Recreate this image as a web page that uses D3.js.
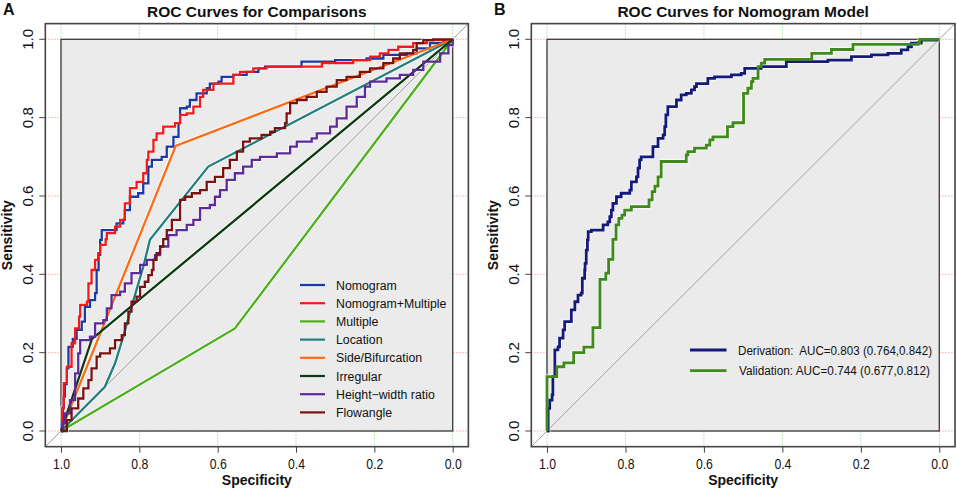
<!DOCTYPE html>
<html><head><meta charset="utf-8">
<script src="https://cdn.jsdelivr.net/npm/d3@7"></script>
<style>body{margin:0;background:#fff}svg{display:block}text{font-family:"Liberation Sans",Arial,Helvetica,sans-serif;white-space:pre}</style>
</head><body><svg id="c" width="957" height="490"></svg>
<script>
// ---------- data ----------
const ticks = [1.0, 0.8, 0.6, 0.4, 0.2, 0.0];
const tickLabels = ["1.0", "0.8", "0.6", "0.4", "0.2", "0.0"];

const seriesA = ["Nomogram", "Nomogram+Multiple", "Multiple", "Location", "Side/Bifurcation", "Irregular", "Height\u2212width ratio", "Flowangle"];
const colorsA = ["#1a3aa6", "#f41a1a", "#4cb01c", "#21807f", "#ff6a14", "#0b3a10", "#5c2a9a", "#7a1212"];
const stepA = [true, true, false, false, false, false, true, true];

const nomogramCurve = [[1,0],[0.998,0.03],[0.995,0.06],[0.993,0.088],[0.99,0.12],[0.985,0.16],[0.981,0.215],[0.97,0.235],[0.96,0.258],[0.947,0.279],[0.939,0.317],[0.926,0.334],[0.913,0.352],[0.909,0.411],[0.904,0.45],[0.9,0.488],[0.896,0.513],[0.875,0.513],[0.858,0.53],[0.841,0.539],[0.837,0.564],[0.824,0.598],[0.803,0.607],[0.79,0.632],[0.777,0.675],[0.768,0.692],[0.743,0.7],[0.73,0.726],[0.713,0.751],[0.7,0.786],[0.696,0.824],[0.679,0.828],[0.671,0.845],[0.654,0.862],[0.628,0.875],[0.62,0.887],[0.598,0.892],[0.59,0.904],[0.56,0.909],[0.526,0.917],[0.496,0.926],[0.479,0.93],[0.39,0.93],[0.386,0.943],[0.305,0.943],[0.3,0.947],[0.262,0.947],[0.22,0.951],[0.177,0.96],[0.117,0.964],[0.092,0.977],[0.058,0.99],[0.024,0.998],[0,1]];
const nomogramMultipleCurve = [[1,0],[0.997,0.058],[0.993,0.122],[0.985,0.164],[0.973,0.224],[0.964,0.262],[0.954,0.292],[0.951,0.322],[0.934,0.33],[0.93,0.377],[0.922,0.411],[0.913,0.437],[0.905,0.454],[0.9,0.475],[0.888,0.475],[0.886,0.49],[0.883,0.505],[0.862,0.522],[0.849,0.539],[0.837,0.581],[0.824,0.62],[0.807,0.636],[0.79,0.658],[0.781,0.692],[0.777,0.713],[0.764,0.743],[0.756,0.76],[0.739,0.777],[0.709,0.786],[0.696,0.807],[0.679,0.811],[0.662,0.828],[0.645,0.853],[0.637,0.871],[0.611,0.887],[0.581,0.887],[0.56,0.909],[0.543,0.917],[0.509,0.926],[0.475,0.93],[0.339,0.93],[0.334,0.939],[0.254,0.947],[0.211,0.956],[0.186,0.964],[0.164,0.973],[0.139,0.981],[0.101,0.99],[0.066,0.998],[0,1]];
const multipleCurve = [[1,0],[0.556,0.262],[0,1]];
const locationCurve = [[1,0],[0.888,0.113],[0.862,0.173],[0.841,0.241],[0.815,0.334],[0.79,0.419],[0.773,0.488],[0.624,0.675],[0,1]];
const sideBifurcationCurve = [[1,0],[0.707,0.728],[0,1]];
const irregularCurve = [[1,0],[0.921,0.235],[0,1]];
const heightWidthCurve = [[1,0],[0.995,0.02],[0.99,0.045],[0.977,0.079],[0.964,0.147],[0.956,0.198],[0.951,0.232],[0.926,0.241],[0.913,0.275],[0.892,0.283],[0.883,0.313],[0.871,0.347],[0.849,0.356],[0.837,0.377],[0.82,0.403],[0.798,0.424],[0.781,0.437],[0.76,0.449],[0.747,0.471],[0.726,0.488],[0.726,0.5],[0.705,0.513],[0.679,0.526],[0.662,0.539],[0.645,0.569],[0.62,0.577],[0.607,0.598],[0.594,0.615],[0.577,0.641],[0.556,0.658],[0.535,0.675],[0.513,0.692],[0.492,0.7],[0.449,0.709],[0.415,0.726],[0.398,0.739],[0.36,0.747],[0.347,0.76],[0.313,0.777],[0.296,0.798],[0.271,0.828],[0.245,0.853],[0.224,0.879],[0.211,0.892],[0.169,0.9],[0.135,0.909],[0.101,0.922],[0.075,0.943],[0.049,0.943],[0.032,0.964],[0.011,0.985],[0,1]];
const flowangleCurve = [[1,0],[0.99,0],[0.985,0.028],[0.973,0.058],[0.956,0.083],[0.943,0.109],[0.93,0.13],[0.922,0.16],[0.909,0.19],[0.9,0.198],[0.879,0.198],[0.875,0.211],[0.862,0.232],[0.845,0.245],[0.837,0.275],[0.828,0.305],[0.82,0.33],[0.807,0.343],[0.798,0.368],[0.786,0.381],[0.777,0.398],[0.768,0.411],[0.764,0.437],[0.756,0.454],[0.747,0.471],[0.739,0.49],[0.73,0.513],[0.717,0.539],[0.696,0.59],[0.683,0.598],[0.666,0.607],[0.645,0.615],[0.628,0.636],[0.607,0.649],[0.586,0.671],[0.569,0.692],[0.551,0.713],[0.535,0.739],[0.518,0.747],[0.488,0.756],[0.466,0.764],[0.454,0.773],[0.428,0.786],[0.424,0.811],[0.415,0.837],[0.398,0.845],[0.373,0.853],[0.347,0.866],[0.322,0.879],[0.296,0.896],[0.271,0.904],[0.237,0.917],[0.211,0.926],[0.177,0.939],[0.152,0.951],[0.135,0.964],[0.101,0.973],[0.092,0.99],[0.075,0.998],[0.05,1],[0,1]];
const curvesA = [nomogramCurve, nomogramMultipleCurve, multipleCurve, locationCurve, sideBifurcationCurve, irregularCurve, heightWidthCurve, flowangleCurve];

const seriesB = ["Derivation:  AUC=0.803 (0.764,0.842)", "Validation: AUC=0.744 (0.677,0.812)"];
const colorsB = ["#141a78", "#3f8a1a"];
const derivationCurve = [[1,0],[0.997,0.058],[0.993,0.079],[0.987,0.092],[0.985,0.139],[0.98,0.207],[0.972,0.215],[0.968,0.237],[0.959,0.258],[0.955,0.279],[0.942,0.279],[0.938,0.309],[0.929,0.33],[0.921,0.347],[0.913,0.352],[0.91,0.39],[0.904,0.411],[0.903,0.428],[0.9,0.462],[0.897,0.488],[0.895,0.509],[0.887,0.513],[0.87,0.513],[0.857,0.526],[0.845,0.534],[0.84,0.547],[0.836,0.564],[0.832,0.581],[0.823,0.598],[0.811,0.607],[0.789,0.615],[0.785,0.636],[0.772,0.649],[0.768,0.671],[0.764,0.692],[0.76,0.7],[0.734,0.7],[0.73,0.726],[0.717,0.747],[0.704,0.756],[0.7,0.777],[0.697,0.807],[0.692,0.828],[0.675,0.828],[0.67,0.845],[0.658,0.858],[0.645,0.862],[0.632,0.871],[0.624,0.879],[0.619,0.887],[0.598,0.887],[0.59,0.9],[0.573,0.904],[0.539,0.904],[0.53,0.909],[0.505,0.913],[0.496,0.926],[0.454,0.93],[0.394,0.93],[0.39,0.943],[0.284,0.947],[0.224,0.956],[0.173,0.96],[0.131,0.964],[0.097,0.973],[0.08,0.981],[0.071,0.99],[0.046,0.998],[0.006,1],[0,1]];
const validationCurve = [[1,0],[1,0.062],[1,0.139],[0.976,0.139],[0.975,0.164],[0.958,0.164],[0.957,0.174],[0.934,0.174],[0.932,0.2],[0.908,0.2],[0.906,0.214],[0.883,0.214],[0.883,0.264],[0.866,0.264],[0.865,0.387],[0.851,0.387],[0.85,0.403],[0.844,0.403],[0.843,0.438],[0.834,0.438],[0.832,0.489],[0.826,0.489],[0.824,0.526],[0.818,0.526],[0.817,0.543],[0.809,0.551],[0.802,0.564],[0.785,0.573],[0.741,0.573],[0.74,0.59],[0.732,0.611],[0.725,0.625],[0.717,0.649],[0.709,0.688],[0.649,0.688],[0.645,0.705],[0.641,0.713],[0.624,0.722],[0.594,0.73],[0.585,0.743],[0.577,0.751],[0.543,0.751],[0.54,0.777],[0.526,0.787],[0.5,0.787],[0.499,0.862],[0.488,0.875],[0.479,0.892],[0.475,0.9],[0.462,0.93],[0.454,0.939],[0.445,0.949],[0.326,0.949],[0.325,0.964],[0.279,0.964],[0.275,0.974],[0.224,0.974],[0.22,0.987],[0.071,0.987],[0.054,0.992],[0.05,1],[0,1]];
const curvesB = [derivationCurve, validationCurve];

// ---------- drawing ----------
const svg = d3.select("#c");
const yS = d3.scaleLinear().domain([0, 1]).range([431, 39.3]);

function panel(opt) {
  const x = d3.scaleLinear().domain([1, 0]).range(opt.xr);
  const g = svg.append("g");
  const fx0 = x(1.04), fx1 = x(-0.04), fy0 = yS(1.04), fy1 = yS(-0.04);
  const cid = "clip" + opt.letter;
  svg.append("clipPath").attr("id", cid).append("rect")
    .attr("x", fx0).attr("y", fy0).attr("width", fx1 - fx0).attr("height", fy1 - fy0);
  // grid
  g.selectAll(".hg").data(ticks).join("line")
    .attr("x1", fx0).attr("x2", fx1).attr("y1", d => yS(d)).attr("y2", d => yS(d))
    .attr("stroke", "#ff8c8c").attr("stroke-width", 1).attr("stroke-dasharray", "1.2,1.8");
  g.selectAll(".vg").data(ticks).join("line")
    .attr("y1", fy0).attr("y2", fy1).attr("x1", d => x(d)).attr("x2", d => x(d))
    .attr("stroke", "#8fd48f").attr("stroke-width", 1).attr("stroke-dasharray", "1.2,1.8");
  // gray area
  g.append("rect").attr("x", x(1)).attr("y", yS(1)).attr("width", x(0) - x(1)).attr("height", yS(0) - yS(1))
    .attr("fill", "#ebebeb").attr("stroke", "#3a3a3a").attr("stroke-width", 1.3);
  // diagonal
  g.append("line").attr("clip-path", `url(#${cid})`)
    .attr("x1", x(1.04)).attr("y1", yS(-0.04)).attr("x2", x(-0.04)).attr("y2", yS(1.04))
    .attr("stroke", "#a0a0a0").attr("stroke-width", 1);
  // curves
  const cg = g.append("g").attr("clip-path", `url(#${cid})`);
  opt.curves.forEach((c, i) => {
    const ln = d3.line().x(d => x(d[0])).y(d => yS(d[1]))
      .curve(opt.step[i] ? d3.curveStepAfter : d3.curveLinear);
    cg.append("path").attr("d", ln(c)).attr("fill", "none")
      .attr("stroke", "#fff").attr("stroke-opacity", 0.75).attr("stroke-width", opt.lw + 1.6).attr("stroke-linejoin", "miter");
  });
  opt.curves.forEach((c, i) => {
    const ln = d3.line().x(d => x(d[0])).y(d => yS(d[1]))
      .curve(opt.step[i] ? d3.curveStepAfter : d3.curveLinear);
    cg.append("path").attr("d", ln(c)).attr("fill", "none")
      .attr("stroke", opt.colors[i]).attr("stroke-width", opt.lw).attr("stroke-linejoin", "miter");
  });
  // frame
  g.append("rect").attr("x", fx0).attr("y", fy0).attr("width", fx1 - fx0).attr("height", fy1 - fy0)
    .attr("fill", "none").attr("stroke", "#444").attr("stroke-width", 1.6);
  // axes
  const xa = d3.axisBottom(x).tickValues(ticks).tickFormat((d, i) => tickLabels[i]).tickSize(6).tickPadding(6);
  const xg = g.append("g").attr("transform", `translate(0,${fy1})`).call(xa);
  xg.select(".domain").remove();
  xg.selectAll("line").attr("stroke", "#444");
  xg.selectAll("text").attr("font-size", 15).attr("fill", "#111").attr("textLength", 17).attr("lengthAdjust", "spacingAndGlyphs");
  const ya = d3.axisLeft(yS).tickValues(ticks).tickFormat((d, i) => tickLabels[i]).tickSize(6).tickPadding(0);
  const yg = g.append("g").attr("transform", `translate(${fx0},0)`).call(ya);
  yg.select(".domain").remove();
  yg.selectAll("line").attr("stroke", "#444");
  yg.selectAll(".tick").attr("transform", null);
  yg.selectAll(".tick line").attr("y1", d => yS(d)).attr("y2", d => yS(d));
  yg.selectAll(".tick text").attr("font-size", 15.5).attr("fill", "#111")
    .attr("text-anchor", "middle").attr("x", null).attr("y", null).attr("dy", null)
    .attr("textLength", 21).attr("lengthAdjust", "spacingAndGlyphs")
    .attr("transform", d => `translate(-12.5,${yS(d)}) rotate(-90)`);
  // titles
  const cx = (fx0 + fx1) / 2;
  g.append("text").attr("x", cx).attr("y", 16.5).attr("text-anchor", "middle")
    .attr("font-size", 15.5).attr("font-weight", "bold").attr("fill", "#111").text(opt.title);
  g.append("text").attr("x", opt.letterX).attr("y", 14.5)
    .attr("font-size", 16).attr("font-weight", "bold").attr("fill", "#111").text(opt.letter);
  g.append("text").attr("x", cx).attr("y", 485).attr("text-anchor", "middle")
    .attr("font-size", 14).attr("font-weight", "bold").attr("fill", "#111").text("Specificity");
  g.append("text").attr("transform", `translate(${fx0 - 33},${(fy0 + fy1) / 2}) rotate(-90)`)
    .attr("text-anchor", "middle").attr("font-size", 14).attr("font-weight", "bold").attr("fill", "#111").text("Sensitivity");
  // legend
  const lg = g.append("g");
  opt.names.forEach((n, i) => {
    const yy = opt.legY + i * opt.legDy;
    lg.append("line").attr("x1", opt.legX).attr("x2", opt.legX + opt.legLen).attr("y1", yy).attr("y2", yy)
      .attr("stroke", opt.colors[i]).attr("stroke-width", opt.legLw);
    const t = lg.append("text").attr("x", opt.legX + opt.legLen + opt.legGap + (opt.legOff ? opt.legOff[i] : 0)).attr("y", yy + 4.5)
      .attr("font-size", opt.legFs).attr("fill", "#111").text(n);
    if (opt.legW) t.attr("textLength", opt.legW[i]).attr("lengthAdjust", "spacingAndGlyphs");
  });
  return x;
}

panel({ letter: "A", letterX: 3, xr: [61, 452.7], title: "ROC Curves for Comparisons",
  curves: curvesA, colors: colorsA, step: stepA, names: seriesA, lw: 2.3,
  legX: 300, legLen: 25, legGap: 11, legY: 285, legDy: 18.2, legLw: 2.2, legFs: 12.3 });
panel({ letter: "B", letterX: 494, xr: [547, 939.3], title: "ROC Curves for Nomogram Model",
  curves: curvesB, colors: colorsB, step: [true, true], names: seriesB, lw: 2.8,
  legX: 690, legLen: 36.5, legGap: 11.5, legY: 350, legDy: 20.7, legLw: 2.8, legFs: 12.5,
  legOff: [0, 1], legW: [194, 191] });
</script></body></html>
